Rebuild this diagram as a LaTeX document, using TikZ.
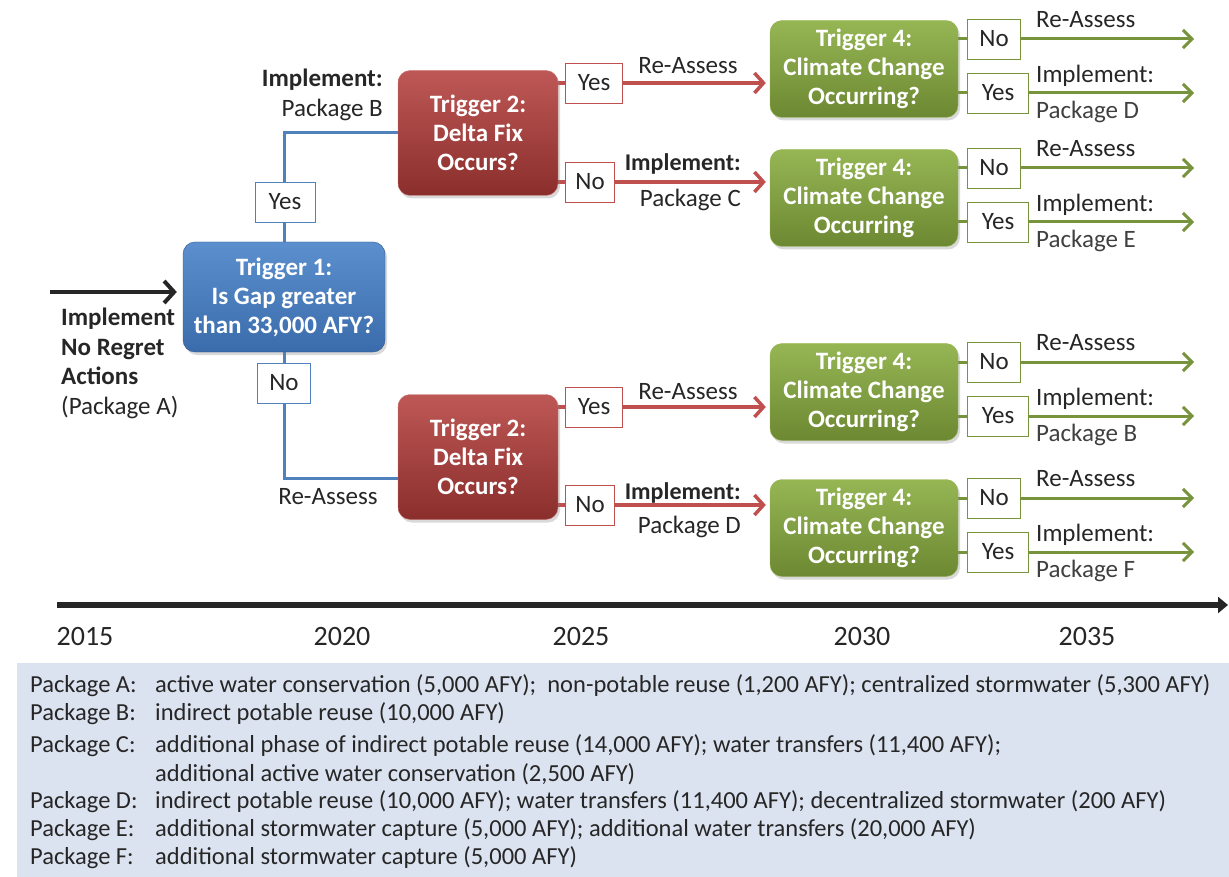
\documentclass[tikz,border=0pt]{standalone}
\usepackage{fontspec}
\setmainfont{Carlito}
\usepackage{tikz}
\usetikzlibrary{calc,positioning,arrows.meta,shadows}
\definecolor{trigblue}{RGB}{79,129,189}
\definecolor{trigbluetop}{RGB}{92,143,206}
\definecolor{trigbluebot}{RGB}{58,108,172}
\definecolor{trigredtop}{RGB}{190,88,86}
\definecolor{trigredbot}{RGB}{138,46,44}
\definecolor{triggreentop}{RGB}{150,182,84}
\definecolor{triggreenbot}{RGB}{108,136,50}
\definecolor{linered}{RGB}{192,80,77}
\definecolor{linegreen}{RGB}{119,147,60}
\definecolor{legendbg}{RGB}{220,227,240}
\definecolor{txt}{RGB}{38,38,38}
\definecolor{txtgray}{RGB}{64,64,64}
\pgfdeclarelayer{back}
\pgfsetlayers{back,main}
\tikzset{
  trig/.style={rectangle,rounded corners=12pt,align=center,text=white,inner sep=0pt,
    font=\bfseries\fontsize{25}{29}\selectfont,
    drop shadow={opacity=0.3,shadow xshift=2pt,shadow yshift=-3pt}},
  trigone/.style={trig,minimum width=202,minimum height=110,
    top color=trigbluetop,bottom color=trigbluebot,draw=trigbluebot!80!black},
  trigtwo/.style={trig,minimum width=160,minimum height=125,
    top color=trigredtop,bottom color=trigredbot,draw=trigredtop!80!white},
  trigfour/.style={trig,minimum width=188,minimum height=97,
    top color=triggreentop,bottom color=triggreenbot,draw=triggreentop},
  ans/.style={rectangle,fill=white,inner sep=0pt,minimum height=40,text=txt,
    font=\fontsize{25}{28}\selectfont},
  ansblue/.style={ans,draw=trigblue,thick},
  ansred/.style={ans,draw=linered,thick},
  ansgreen/.style={ans,draw=linegreen,thick},
  lbl/.style={text=txt,inner sep=0pt,font=\fontsize{25}{29.5}\selectfont},
  pkg/.style={lbl,text=txtgray},
  blueline/.style={draw=trigblue,line width=3pt},
  redarrow/.style={draw=linered,line width=3.5pt,-{Straight Barb[length=9pt,width=20pt]},shorten >=4pt},
  greenarrow/.style={draw=linegreen,line width=3pt,-{Straight Barb[length=9pt,width=18pt]}},
  inarrow/.style={draw=black!85,line width=4pt,-{Straight Barb[length=10pt,width=22pt]},shorten >=6pt},
  timeline/.style={draw=black!85,line width=5.5pt,-{Triangle[length=10pt,width=16pt]}},
  yearlbl/.style={text=txt,font=\fontsize{28}{32}\selectfont},
  legtxt/.style={text=txt,inner sep=0pt,anchor=west,font=\fontsize{24.5}{28.6}\selectfont},
}

\begin{document}
\begin{tikzpicture}[x=1pt,y=-1pt]
\useasboundingbox (0,0) rectangle (1229,877);

% legend panel
\fill[legendbg] (17,663) rectangle (1229,877);

% triggers
\node[trigone] (t1) at (284,297) {Trigger 1:\\Is Gap greater\\than 33,000 AFY?};
\node[trigtwo] (d1) at (478,133) {Trigger 2:\\Delta Fix\\Occurs?};
\node[trigtwo] (d2) at (478,457) {Trigger 2:\\Delta Fix\\Occurs?};
\node[trigfour] (g1) at (864,69) {Trigger 4:\\Climate Change\\Occurring?};
\node[trigfour] (g2) at (864,198) {Trigger 4:\\Climate Change\\Occurring};
\node[trigfour] (g3) at (864,392) {Trigger 4:\\Climate Change\\Occurring?};
\node[trigfour] (g4) at (864,528) {Trigger 4:\\Climate Change\\Occurring?};

% trigger 1 answers
\node[ansblue,minimum width=60] (y0) at (285,202) {Yes};
\node[ansblue,minimum width=53] (n0) at (284,383) {No};
\node[lbl,anchor=south east,align=right] (pb) at (383,121) {\textbf{Implement:}\\Package B};
\node[lbl] (ra0) at (328,497) {Re-Assess};

\node[lbl,anchor=north west,align=left] (pa) at (61,308)
  {\textbf{Implement}\\\textbf{No Regret}\\\textbf{Actions}\\(Package A)};
\coordinate (in) at (50,292);

% trigger 2 answers
\node[ansred,minimum width=57,anchor=west] (y1) at ($(d1.east)+(7,-50)$) {Yes};
\node[ansred,minimum width=49,anchor=west] (n1) at ($(d1.east)+(7,49)$) {No};
\node[ansred,minimum width=57,anchor=west] (y2) at ($(d2.east)+(7,-50)$) {Yes};
\node[ansred,minimum width=49,anchor=west] (n2) at ($(d2.east)+(7,48)$) {No};
\node[lbl] (ra1) at (688,66) {Re-Assess};
\node[lbl,anchor=east,font=\bfseries\fontsize{24}{29}\selectfont] (im1) at ($(n1 -| 741,0)+(0,-18)$) {Implement:};
\node[lbl,anchor=east] (pc) at ($(n1 -| 741,0)+(0,18)$) {Package C};
\node[lbl] (ra2) at (688,392) {Re-Assess};
\node[lbl,anchor=east,font=\bfseries\fontsize{24}{29}\selectfont] (im2) at ($(n2 -| 741,0)+(0,-12)$) {Implement:};
\node[lbl,anchor=east] (pd) at ($(n2 -| 741,0)+(0,22)$) {Package D};

% trigger 4 answers
\foreach \g/\p in {g1/D,g2/E,g3/B,g4/F}{
  \node[ansgreen,minimum width=53,anchor=west] (\g-n) at ($(\g.east)+(9,-30)$) {No};
  \node[ansgreen,minimum width=61,anchor=west] (\g-y) at ($(\g.east)+(9,24)$) {Yes};
  \node[lbl,anchor=west] (\g-ra) at ($(\g-n -| 1036,0)+(0,-19)$) {Re-Assess};
  \node[lbl,anchor=west] (\g-im) at ($(\g-y -| 1036,0)+(0,-17)$) {Implement:};
  \node[pkg,anchor=west] (\g-pk) at ($(\g-y -| 1036,0)+(0,19)$) {Package \p};
  \begin{pgfonlayer}{back}
    \path[greenarrow] (\g.east |- \g-n) -- (\g-n -| 1194,0);
    \path[greenarrow] (\g.east |- \g-y) -- (\g-y -| 1194,0);
  \end{pgfonlayer}
}

\begin{pgfonlayer}{back}
  \path[blueline] (t1.north) |- (d1.west);
  \path[blueline] (t1.south) |- ([yshift=-21pt]d2.west);
  \path[redarrow] (d1.east |- y1) -- (g1.west |- y1);
  \path[redarrow] (d1.east |- n1) -- (g2.west |- n1);
  \path[redarrow] (d2.east |- y2) -- (g3.west |- y2);
  \path[redarrow] (d2.east |- n2) -- (g4.west |- n2);
  \path[inarrow] (in) -- (t1.west |- in);
\end{pgfonlayer}

% time axis
\coordinate (ts) at (57,605);
\coordinate (te) at (1228,605);
\path[timeline] (ts) -- (te);
\foreach \yr/\x in {2015/85,2020/342,2025/581,2030/862,2035/1087}
  \node[yearlbl] (yr\yr) at (\x,637) {\yr};

% packages
\node[legtxt] (la) at (30,686) {Package A:};
\node[legtxt] (lb) at (30,714) {Package B:};
\node[legtxt] (lc) at (30,746) {Package C:};
\node[legtxt] (ld) at (30,802) {Package D:};
\node[legtxt] (le) at (30,830) {Package E:};
\node[legtxt] (lf) at (30,858) {Package F:};
\node[legtxt] (da) at (155,686) {active water conservation (5,000 AFY);\ \ non-potable reuse (1,200 AFY); centralized stormwater (5,300 AFY)};
\node[legtxt] (db) at (155,714) {indirect potable reuse (10,000 AFY)};
\node[legtxt,align=left] (dc) at (155,760) {additional phase of indirect potable reuse (14,000 AFY); water transfers (11,400 AFY);\\additional active water conservation (2,500 AFY)};
\node[legtxt] (dd) at (155,802) {indirect potable reuse (10,000 AFY); water transfers (11,400 AFY); decentralized stormwater (200 AFY)};
\node[legtxt] (de) at (155,830) {additional stormwater capture (5,000 AFY); additional water transfers (20,000 AFY)};
\node[legtxt] (df) at (155,858) {additional stormwater capture (5,000 AFY)};
\end{tikzpicture}
\end{document}
